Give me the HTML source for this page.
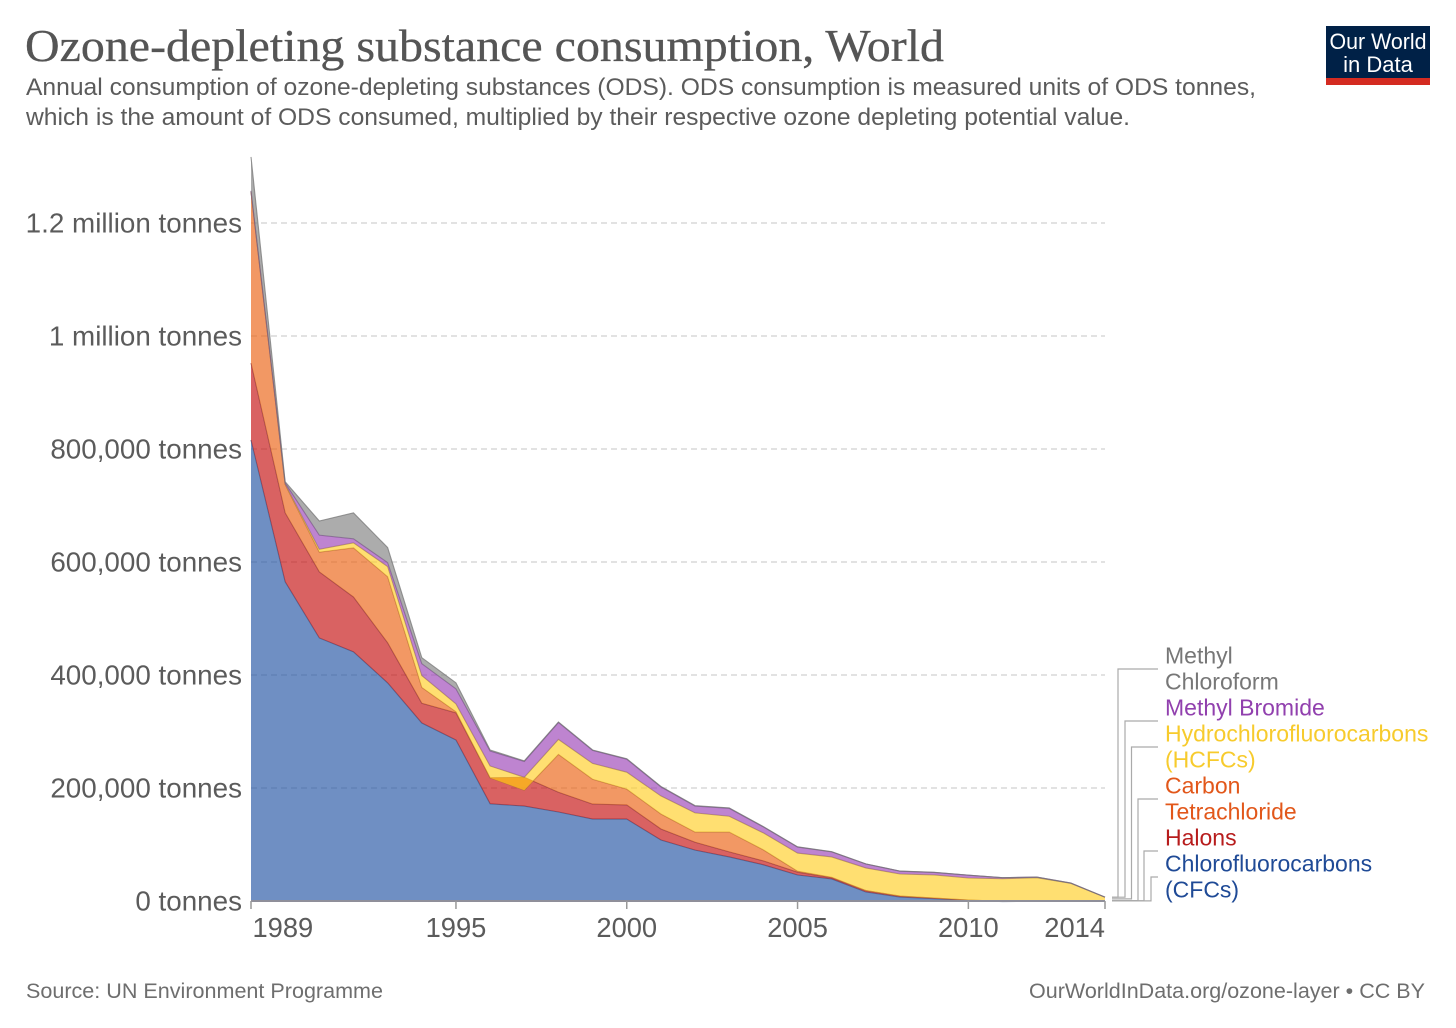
<!DOCTYPE html>
<html lang="en">
<head>
<meta charset="utf-8">
<title>Ozone-depleting substance consumption, World</title>
<style>
html,body{margin:0;padding:0;background:#fff;}
svg{display:block;font-family:"Liberation Sans",sans-serif;}
</style>
</head>
<body>
<svg id="chart" xmlns="http://www.w3.org/2000/svg" width="1456" height="1028" viewBox="0 0 1456 1028">
  <rect x="0" y="0" width="1456" height="1028" fill="#fff"/>
  <text x="25" y="61" font-family="'Liberation Serif',serif" font-size="45" fill="#555" stroke="#555" stroke-width="0.3" textLength="919" lengthAdjust="spacingAndGlyphs">Ozone-depleting substance consumption, World</text>
  <text x="26" y="95" font-size="24" fill="#5b5b5b" textLength="1230" lengthAdjust="spacingAndGlyphs">Annual consumption of ozone-depleting substances (ODS). ODS consumption is measured units of ODS tonnes,</text>
  <text x="26" y="125" font-size="24" fill="#5b5b5b" textLength="1104" lengthAdjust="spacingAndGlyphs">which is the amount of ODS consumed, multiplied by their respective ozone depleting potential value.</text>
  <g>
    <rect x="1326" y="26" width="104" height="59" fill="#002147"/>
    <rect x="1326" y="78" width="104" height="7" fill="#d42b21"/>
    <text x="1378" y="49" text-anchor="middle" font-size="22" fill="#fff" textLength="97" lengthAdjust="spacingAndGlyphs">Our World</text>
    <text x="1378" y="72" text-anchor="middle" font-size="22" fill="#fff">in Data</text>
  </g>
  <g id="grid"></g>
  <g id="areas"></g>
  <g id="xaxis"></g>
  <g id="yaxis"></g>
  <g id="legend"></g>
  <text x="26" y="998" font-size="21" fill="#6e6e6e" textLength="357" lengthAdjust="spacingAndGlyphs">Source: UN Environment Programme</text>
  <text x="1425" y="998" font-size="21" fill="#6e6e6e" text-anchor="end" textLength="396" lengthAdjust="spacingAndGlyphs">OurWorldInData.org/ozone-layer • CC BY</text>
</svg>
<script>
const years = [1989,1990,1991,1992,1993,1994,1995,1996,1997,1998,1999,2000,2001,2002,2003,2004,2005,2006,2007,2008,2009,2010,2011,2012,2013,2014];
const cfcs = [816000,565000,465500,441000,386000,315000,285000,172000,168000,157500,145000,145000,108000,90000,78000,64000,46000,39000,16000,7000,4000,1200,-1000,-500,500,500];
const halons = [136000,122000,117000,97000,71000,35000,48000,46000,51000,35000,26500,25000,19500,14000,9000,7000,5000,2000,2500,1800,1200,500,400,300,200,200];
const carbonTetrachloride = [303000,50000,35000,87000,117000,28000,2000,0,-23000,67000,44000,28000,26500,18000,35000,19500,1800,1000,0,0,0,0,0,0,0,0];
const hcfcs = [1000,1000,5000,9000,18000,21000,14000,21000,23000,26500,28000,30000,32000,34000,28000,30000,32000,36000,40000,39000,41000,39000,40000,41500,30500,6000];
const methylBromide = [1000,2000,25000,7000,7000,21000,26500,26500,28000,30000,23000,23000,16000,12000,14000,10600,10600,9000,7000,5000,4400,5000,1800,1000,500,100];
const methylChloroform = [60000,2000,25000,46000,26500,10600,10600,1800,1000,800,800,800,800,800,800,500,500,300,200,100,100,100,100,100,100,0];

const yTicks = [0,200000,400000,600000,800000,1000000,1200000];
const yTickLabels = ["0 tonnes","200,000 tonnes","400,000 tonnes","600,000 tonnes","800,000 tonnes","1 million tonnes","1.2 million tonnes"];
const xTicks = [1989,1995,2000,2005,2010,2014];
const seriesNames = ["Chlorofluorocarbons (CFCs)","Halons","Carbon Tetrachloride","Hydrochlorofluorocarbons (HCFCs)","Methyl Bromide","Methyl Chloroform"];
const seriesValues = [cfcs,halons,carbonTetrachloride,hcfcs,methylBromide,methylChloroform];
const seriesFill = ["#2253a3","#c50e0e","#eb6111","#ffce25","#9b42b7","#808080"];
const seriesStroke = ["#3f5a88","#8a3a48","#b56a38","#a98f48","#7b4f8f","#777777"];
const seriesLabelColor = ["#1f4a96","#b71c1c","#e2571a","#f7cb2d","#9140ae","#777777"];
const legendLines = [["Chlorofluorocarbons","(CFCs)"],["Halons"],["Carbon","Tetrachloride"],["Hydrochlorofluorocarbons","(HCFCs)"],["Methyl Bromide"],["Methyl","Chloroform"]];

const NS = "http://www.w3.org/2000/svg";
const X0 = 251, X1 = 1105, Y0 = 901, YPX = 113 / 200000;
function xScale(year){ return X0 + (year - years[0]) / (years[years.length-1] - years[0]) * (X1 - X0); }
function yScale(v){ return Y0 - v * YPX; }
function make(tag, attrs, parent){
  const el = document.createElementNS(NS, tag);
  for (const k in attrs) el.setAttribute(k, attrs[k]);
  parent.appendChild(el);
  return el;
}
function slug(s){ return s.toLowerCase().replace(/[^a-z0-9]+/g,'-').replace(/^-|-$/g,''); }

const grid = document.getElementById('grid');
yTicks.forEach(function(t){
  if (t === 0) return;
  const line = make('line',{x1:X0,x2:X1,y1:yScale(t),y2:yScale(t),stroke:'#d9d9d9','stroke-width':1.5,'stroke-dasharray':'6 4'},grid);
  
  
});

const areas = document.getElementById('areas');
const stackTop = years.map(function(){ return 0; });
const lastMid = [];
seriesValues.forEach(function(vals, s){
  const lower = stackTop.slice();
  vals.forEach(function(v,i){ stackTop[i] += v; });
  const upperPts = years.map(function(y,i){ return xScale(y).toFixed(2)+','+yScale(stackTop[i]).toFixed(2); });
  const lowerPts = years.map(function(y,i){ return xScale(y).toFixed(2)+','+yScale(lower[i]).toFixed(2); }).reverse();
  const area = make('polygon',{points:upperPts.concat(lowerPts).join(' '),fill:seriesFill[s],'fill-opacity':0.65,stroke:'none'},areas);
  
  
  const edge = make('polyline',{points:upperPts.join(' '),fill:'none',stroke:seriesStroke[s],'stroke-width':1.1,'stroke-opacity':0.75},areas);
  
  
  const n = years.length - 1;
  lastMid.push(yScale((lower[n] + stackTop[n]) / 2));
});

const xaxis = document.getElementById('xaxis');
const axisLine = make('line',{x1:X0,x2:X1,y1:Y0,y2:Y0,stroke:'#8f8f9a','stroke-width':2},xaxis);


xTicks.forEach(function(t,i){
  const x = xScale(t);
  const tick = make('line',{x1:x,x2:x,y1:Y0,y2:Y0+8,stroke:'#999','stroke-width':1.5},xaxis);
  
  
  const anchor = i === 0 ? 'start' : (i === xTicks.length-1 ? 'end' : 'middle');
  const label = make('text',{x:i === 0 ? x+1.5 : x,y:937,'text-anchor':anchor,'font-size':27.3,fill:'#5b5b5b'},xaxis);
  
  
  label.textContent = t;
});

const yaxis = document.getElementById('yaxis');
yTicks.forEach(function(t,i){
  const label = make('text',{x:242,y:yScale(t)+9.5,'text-anchor':'end','font-size':27.8,fill:'#5b5b5b'},yaxis);
  
  
  label.textContent = yTickLabels[i];
});

const legend = document.getElementById('legend');
const LEGEND_BASE = 897.3, LINE_H = 26;
const legendVx = [1151,1144,1138,1131.5,1125,1118];
let lineCursor = 0;
seriesNames.forEach(function(name,s){
  const lines = legendLines[s];
  const firstBaseline = LEGEND_BASE - (lineCursor + lines.length - 1) * LINE_H;
  lines.forEach(function(txt,k){
    const t = make('text',{x:1165,y:firstBaseline + k*LINE_H,'font-size':23,fill:seriesLabelColor[s]},legend);
    
    
    t.textContent = txt;
  });
  const connectorY = Math.round(firstBaseline + 5.7);
  const vx = legendVx[s];
  const c = make('polyline',{points:'1112,'+lastMid[s].toFixed(1)+' '+vx+','+lastMid[s].toFixed(1)+' '+vx+','+connectorY+' 1158,'+connectorY,fill:'none',stroke:'#aaa','stroke-width':1.2},legend);
  
  
  lineCursor += lines.length;
});
</script>
</body>
</html>
